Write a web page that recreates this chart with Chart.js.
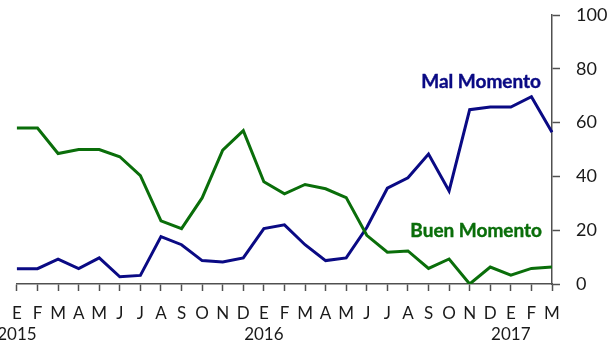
<!DOCTYPE html>
<html>
<head>
<meta charset="utf-8">
<script src="https://cdn.jsdelivr.net/npm/chart.js@4/dist/chart.umd.min.js"></script>
<style>
  html, body { margin: 0; padding: 0; background: #ffffff; }
  #wrap { width: 608px; height: 343px; position: relative; overflow: hidden; }
</style>
</head>
<body>
<div id="wrap"><canvas id="c" width="608" height="343"></canvas></div>
<script>
// Monthly survey: share saying it is a good / bad moment (%), Jan 2015 – Mar 2017
const months = ['E','F','M','A','M','J','J','A','S','O','N','D',
                'E','F','M','A','M','J','J','A','S','O','N','D',
                'E','F','M'];
const years = [{ index: 0, label: '2015' }, { index: 12, label: '2016' }, { index: 24, label: '2017' }];

const buenMomento = [58, 58, 48.5, 50, 50, 47.3, 40.3, 23.5, 20.6, 32, 49.8, 57,
                     38, 33.5, 37, 35.4, 32.1, 18.1, 11.8, 12.3, 5.8, 9.3, 0, 6.3,
                     3.3, 5.8, 6.3];
const malMomento = [5.7, 5.7, 9.2, 5.7, 9.7, 2.7, 3.2, 17.6, 14.6, 8.7, 8.2, 9.7,
                    20.6, 22, 14.6, 8.7, 9.7, 21, 35.6, 39.5, 48.3, 34.6, 64.8, 65.8,
                    65.8, 69.6, 56.4];
const yTicks = [0, 20, 40, 60, 80, 100];

const NAVY = '#0a0a84';
const GREEN = '#0a6e0a';
const AXIS = '#505050';
const TEXT = '#1a1a1a';
const FONT = 'Lato, "Open Sans", sans-serif';

// Series names written beside their lines, and the year under each January
const annotations = {
  id: 'annotations',
  afterDraw(chart) {
    const ctx = chart.ctx;
    const x = chart.scales.x;
    const y = chart.scales.y;
    ctx.save();
    ctx.textBaseline = 'middle';
    ctx.font = 'bold 19px ' + FONT;
    ctx.textAlign = 'right';
    ctx.lineWidth = 0.4;
    const right = x.getPixelForValue(months.length - 1) - 11;
    ctx.fillStyle = NAVY;
    ctx.strokeStyle = NAVY;
    ctx.fillText('Mal Momento', right, y.getPixelForValue(75.2));
    ctx.strokeText('Mal Momento', right, y.getPixelForValue(75.2));
    ctx.fillStyle = GREEN;
    ctx.strokeStyle = GREEN;
    ctx.fillText('Buen Momento', right + 1, y.getPixelForValue(19.7));
    ctx.strokeText('Buen Momento', right + 1, y.getPixelForValue(19.7));

    ctx.font = '17px ' + FONT;
    ctx.textAlign = 'center';
    ctx.fillStyle = TEXT;
    years.forEach(yr => {
      ctx.fillText(yr.label, x.getPixelForValue(yr.index), 334.5);
    });
    ctx.restore();
  }
};

new Chart(document.getElementById('c'), {
  type: 'line',
  data: {
    labels: months,
    datasets: [
      { label: 'Buen Momento', data: buenMomento, borderColor: GREEN, borderWidth: 3,
        pointRadius: 0, tension: 0, fill: false },
      { label: 'Mal Momento', data: malMomento, borderColor: NAVY, borderWidth: 3,
        pointRadius: 0, tension: 0, fill: false }
    ]
  },
  options: {
    responsive: false,
    animation: false,
    devicePixelRatio: 1,
    layout: { padding: { left: 14.7, top: 15, right: 0, bottom: 0 } },
    plugins: { legend: { display: false }, tooltip: { enabled: false } },
    scales: {
      x: {
        type: 'category',
        offset: false,
        grid: { drawOnChartArea: false, color: AXIS, tickLength: 7, tickWidth: 1.5 },
        border: { color: AXIS, width: 1.5 },
        ticks: { color: TEXT, font: { family: FONT, size: 17 }, padding: 12,
                 maxRotation: 0, autoSkip: false },
        afterFit(scale) { scale.height = 59; }
      },
      y: {
        position: 'right',
        min: 0, max: 100,
        afterBuildTicks(scale) { scale.ticks = yTicks.map(v => ({ value: v })); },
        grid: { drawOnChartArea: false, color: AXIS, tickLength: 8, tickWidth: 1.5 },
        border: { color: AXIS, width: 1.5 },
        ticks: { color: TEXT, font: { family: FONT, size: 18 }, padding: 16 },
        afterFit(scale) {
          scale.width = 56;
          scale.paddingTop = 0;
          scale.paddingBottom = 0;
        }
      }
    }
  },
  plugins: [annotations]
});
</script>
</body>
</html>
